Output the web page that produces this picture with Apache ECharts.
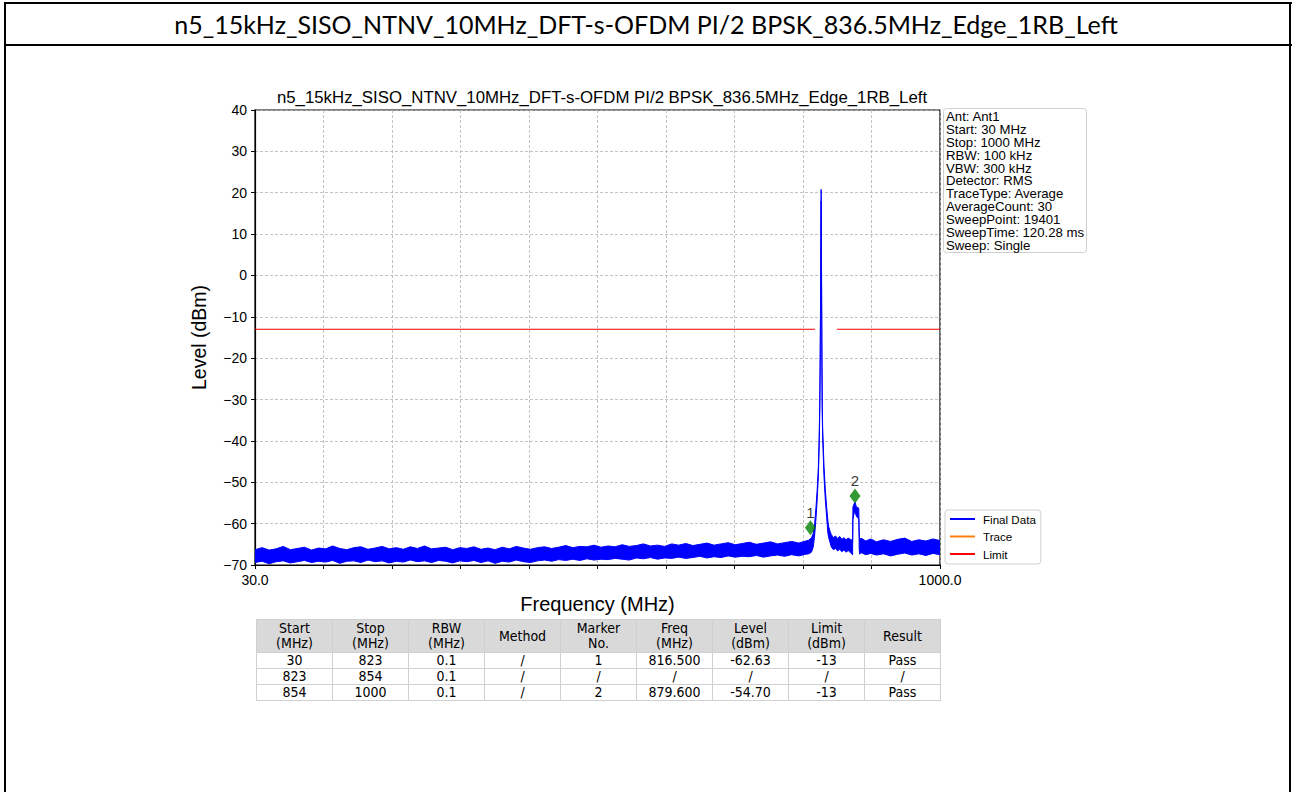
<!DOCTYPE html>
<html>
<head>
<meta charset="utf-8">
<script src="https://cdn.jsdelivr.net/npm/echarts@6/dist/echarts.min.js"></script>
<style>
html,body{margin:0;padding:0;background:#fff;width:1292px;height:792px;overflow:hidden;}
#chart{position:absolute;left:0;top:0;width:1292px;height:792px;}
.fr{position:absolute;background:#000;}
#doctitle{position:absolute;left:0;width:1292px;top:9px;text-align:center;font-family:Lato,"Open Sans","Liberation Sans",sans-serif;font-size:25px;color:#000;line-height:30px;white-space:nowrap;}
#tbl{position:absolute;left:256px;top:619px;border-collapse:collapse;table-layout:fixed;width:684px;font-family:"Liberation Sans Narrow","DejaVu Sans Condensed","Liberation Sans",sans-serif;font-size:14px;color:#000;}
#tbl td{border:1px solid #d0d0d0;text-align:center;padding:0;line-height:15px;height:15px;overflow:hidden;white-space:nowrap;}
#tbl tr.hd td{background:#d9d9d9;height:32px;line-height:15px;}
</style>
</head>
<body>
<div id="chart"></div>
<div class="fr" style="left:4px;top:2px;width:1288px;height:2px;"></div>
<div class="fr" style="left:4px;top:44px;width:1288px;height:2px;"></div>
<div class="fr" style="left:4px;top:2px;width:2px;height:790px;"></div>
<div class="fr" style="left:1289px;top:2px;width:2px;height:790px;"></div>
<div id="doctitle"></div>
<table id="tbl"></table>
<script>
// ---------- data ----------
const docTitle = "n5_15kHz_SISO_NTNV_10MHz_DFT-s-OFDM PI/2 BPSK_836.5MHz_Edge_1RB_Left";
const chartTitle = "n5_15kHz_SISO_NTNV_10MHz_DFT-s-OFDM PI/2 BPSK_836.5MHz_Edge_1RB_Left";

// trace sample frequencies (MHz)
const freqMHz = [
  30,40,50,60,70,80,90,100,110,120,
  130,140,150,160,170,180,190,200,210,220,
  230,240,250,260,270,280,290,300,310,320,
  330,340,350,360,370,380,390,400,410,420,
  430,440,450,460,470,480,490,500,510,520,
  530,540,550,560,570,580,590,600,610,620,
  630,640,650,660,670,680,690,700,710,720,
  730,740,750,760,770,780,790,800,810,
  814,818,820.6,822.5,824.4,826,827.7,828.6,829.1,829.8,830.4,830.9,831.3,831.7,832.1,832.5,832.9,833.3,833.8,834.8,835.7,837.5,839.5,841.4,842.5,844.2,
  846,849,852,855,858,861,864,867,870,873,875.6,
  876.2,876.7,878.2,879.6,881.0,882.2,883.5,885.0,885.6,886.3,
  888,895,902,910,920,930,940,950,960,970,980,990,1000
];
// upper edge of the Final Data trace (dBm)
const upperDbm = [
  -66.3,-65.8,-66.4,-66.1,-65.5,-66.3,-66.0,-65.7,-66.4,-65.9,
  -66.1,-65.4,-66.0,-66.3,-65.8,-65.6,-66.2,-65.9,-65.5,-66.1,
  -65.8,-66.2,-65.6,-66.0,-65.4,-66.1,-65.9,-65.7,-66.3,-65.8,
  -66.0,-65.6,-66.2,-65.9,-66.3,-65.7,-66.1,-65.5,-65.9,-66.2,
  -65.8,-65.6,-66.0,-65.7,-65.3,-65.8,-65.5,-65.6,-65.2,-65.7,
  -65.4,-65.6,-65.1,-65.5,-65.3,-64.9,-65.4,-65.2,-65.5,-64.9,
  -65.2,-64.8,-65.3,-65.0,-64.7,-65.2,-64.9,-64.6,-65.1,-64.8,
  -64.5,-65.0,-64.7,-64.4,-64.9,-64.6,-64.3,-64.7,-64.2,
  -64.0,-63.4,-62.3,-60.0,-56.0,-52.0,-46.5,-41.0,-37.0,-30.0,-18.0,-4.0,10.0,20.8,8.0,-8.0,-22.0,-31.0,-36.5,-41.5,-46.0,-51.5,-56.0,-59.5,-60.8,-61.8,
  -62.6,-63.4,-63.0,-63.6,-63.1,-63.8,-63.4,-63.9,-63.5,-63.8,-64.0,
  -64.5,-56.0,-55.3,-54.8,-55.6,-56.3,-56.0,-56.4,-62.0,-64.2,
  -63.5,-64.2,-63.7,-64.4,-63.9,-64.3,-63.8,-63.5,-64.3,-63.9,-64.2,-63.7,-64.1
];
// lower edge of the Final Data trace (dBm)
const lowerDbm = [
  -69.4,-69.1,-69.7,-69.2,-69.0,-69.5,-69.2,-68.9,-69.4,-69.1,
  -69.3,-68.9,-69.6,-69.1,-69.0,-69.4,-68.8,-69.2,-69.0,-69.5,
  -69.1,-69.3,-68.8,-69.2,-69.0,-69.4,-68.9,-69.1,-69.5,-69.0,
  -69.2,-68.9,-69.4,-69.0,-69.6,-69.1,-69.3,-68.8,-69.2,-69.4,
  -69.0,-68.8,-69.1,-68.7,-68.9,-68.6,-68.9,-68.5,-68.8,-68.6,
  -68.7,-68.4,-68.6,-68.8,-68.3,-68.5,-68.2,-68.6,-68.3,-68.4,
  -68.1,-68.4,-68.2,-67.9,-68.3,-68.0,-68.2,-67.8,-68.1,-67.9,
  -68.0,-67.7,-68.1,-67.8,-67.6,-67.9,-67.5,-67.8,-67.4,
  -67.3,-66.9,-65.6,-62.8,-58.8,-54.5,-48.8,-43.5,-39.5,-33.0,-21.0,-7.0,6.0,18.0,4.0,-11.0,-25.0,-34.0,-39.0,-44.0,-48.5,-54.0,-58.5,-62.5,-63.5,-64.5,
  -65.6,-66.3,-66.0,-66.6,-66.2,-66.8,-66.4,-66.9,-66.5,-67.0,-67.3,
  -67.6,-59.0,-57.6,-57.2,-57.9,-58.4,-58.6,-58.9,-66.2,-67.4,
  -67.0,-67.5,-67.2,-67.6,-67.3,-67.8,-67.4,-67.1,-67.6,-67.3,-67.7,-67.2,-67.5
];

// limit line: segments (start, stop, level)
const limitStart = [30, 854];
const limitStop = [823, 1000];
const limitLevel = [-13, -13];

// markers
const markerNo = ["1", "2"];
const markerFreq = [816.5, 879.6];
const markerPlotLevel = [-61.0, -53.3];

// axis ranges and tick labels
const xMin = 30, xMax = 1000, xStep = 97;
const yMin = -70, yMax = 40, yStep = 10;
const xTickLabels = {30: "30.0", 1000: "1000.0"};

const infoLines = ["Ant: Ant1","Start: 30 MHz","Stop: 1000 MHz","RBW: 100 kHz","VBW: 300 kHz","Detector: RMS","TraceType: Average","AverageCount: 30","SweepPoint: 19401","SweepTime: 120.28 ms","Sweep: Single"];

const legendNames = ["Final Data", "Trace", "Limit"];

// result table
const tableHeader = ["Start<br>(MHz)","Stop<br>(MHz)","RBW<br>(MHz)","Method","Marker<br>No.","Freq<br>(MHz)","Level<br>(dBm)","Limit<br>(dBm)","Result"];
const tableRow1 = ["30","823","0.1","/","1","816.500","-62.63","-13","Pass"];
const tableRow2 = ["823","854","0.1","/","/","/","/","/","/"];
const tableRow3 = ["854","1000","0.1","/","2","879.600","-54.70","-13","Pass"];

// ---------- page text ----------
document.getElementById('doctitle').textContent = docTitle;
(function(){
  const t = document.getElementById('tbl');
  let html = '<colgroup>' + tableHeader.map(()=>'<col style="width:76px">').join('') + '</colgroup>';
  html += '<tr class="hd">' + tableHeader.map(h=>'<td>'+h+'</td>').join('') + '</tr>';
  [tableRow1, tableRow2, tableRow3].forEach(r=>{
    html += '<tr>' + r.map(c=>'<td>'+c+'</td>').join('') + '</tr>';
  });
  t.innerHTML = html;
})();

// ---------- chart ----------
const FONT = '"Liberation Sans", Arial, sans-serif';
const limitData = [];
limitStart.forEach((s,i)=>{
  if (i > 0) limitData.push([(limitStop[i-1]+s)/2, '-']);
  limitData.push([s, limitLevel[i]]);
  limitData.push([limitStop[i], limitLevel[i]]);
});
const markerData = markerFreq.map((f,i)=>({value:[f, markerPlotLevel[i]], name: markerNo[i]}));

// Final Data trace drawn as a filled band between its upper and lower edges
function renderBand(params, api) {
  const pts = [];
  for (let i = 0; i < freqMHz.length; i++) pts.push(api.coord([freqMHz[i], upperDbm[i]]));
  for (let i = freqMHz.length - 1; i >= 0; i--) pts.push(api.coord([freqMHz[i], lowerDbm[i]]));
  return {
    type: 'polygon',
    shape: {points: pts},
    style: {fill: '#0000ff', stroke: '#0000ff', lineWidth: 1}
  };
}

const chart = echarts.init(document.getElementById('chart'), null, {renderer:'svg'});
chart.setOption({
  animation: false,
  backgroundColor: '#fff',
  title: [
    {text: chartTitle, left: 597, top: 84, textAlign: 'center',
     textStyle:{fontFamily: FONT, fontSize: 16.8, fontWeight:'normal', color:'#000'}},
    {text: infoLines.join('\n'), left: 943, top: 108, padding:[2,3,1,3],
     borderColor:'#cfcfcf', borderWidth:1, borderRadius:3,
     textStyle:{fontFamily: FONT, fontSize: 13.2, lineHeight: 12.9, fontWeight:'normal', color:'#000'}}
  ],
  legend: {
    data: legendNames,
    orient: 'vertical',
    left: 945, top: 510,
    padding: [2, 5, 3, 5],
    itemGap: 3.5,
    itemWidth: 25, itemHeight: 2,
    icon: 'rect',
    borderColor: '#cfcfcf', borderWidth: 1, borderRadius: 3,
    textStyle: {fontFamily: FONT, fontSize: 11.6, color:'#000', lineHeight: 14, padding:[0,0,0,3]}
  },
  grid: {left: 255, top: 110, width: 685, height: 455, show: true, borderColor:'#000', borderWidth: 1.2, containLabel:false},
  xAxis: {
    type: 'value', min: xMin, max: xMax, interval: xStep,
    name: 'Frequency (MHz)', nameLocation: 'middle', nameGap: 29,
    nameTextStyle: {fontFamily: FONT, fontSize: 20, color:'#000'},
    axisLine: {show: true, onZero: false, lineStyle:{color:'#000', width:1.2}},
    axisTick: {show: true, inside:false, length: 4, lineStyle:{color:'#000'}},
    axisLabel: {fontFamily: FONT, fontSize: 14, color:'#000', margin: 8,
      showMinLabel: true, showMaxLabel: true, hideOverlap: false,
      formatter: v => xTickLabels[v] || ''},
    splitLine: {show: true, lineStyle:{color:'#b4b4b4', type:[3,2], width:0.8}}
  },
  yAxis: {
    type: 'value', min: yMin, max: yMax, interval: yStep,
    name: 'Level (dBm)', nameLocation: 'middle', nameGap: 46, nameRotate: 90,
    nameTextStyle: {fontFamily: FONT, fontSize: 19.5, color:'#000'},
    axisLine: {show: true, onZero: false, lineStyle:{color:'#000', width:1.2}},
    axisTick: {show: true, inside:false, length: 4, lineStyle:{color:'#000'}},
    axisLabel: {fontFamily: FONT, fontSize: 14, color:'#000', margin: 8,
      formatter: v => String(v).replace('-', '\u2212')},
    splitLine: {show: true, lineStyle:{color:'#b4b4b4', type:[3,2], width:0.8}}
  },
  series: [
    {name: 'Final Data', type: 'custom', renderItem: renderBand, clip: true,
     data: [[freqMHz[0], upperDbm[0]]], itemStyle:{color:'#0000ff'}, z: 3, silent: true},
    {name: 'Trace', type: 'line', data: [], symbol:'none',
     lineStyle:{color:'#ff7f0e', width:1.5}, itemStyle:{color:'#ff7f0e'}},
    {name: 'Limit', type: 'line', data: limitData, symbol:'none', connectNulls:false,
     lineStyle:{color:'#ff0000', width:1.2}, itemStyle:{color:'#ff0000'}, z: 4},
    {name: 'Markers', type: 'scatter', data: markerData, symbol:'diamond', symbolSize:[11,15],
     itemStyle:{color:'#008000'}, z: 5,
     label:{show:true, position:'top', distance:0, formatter: p => p.name,
       fontFamily: FONT, fontSize: 15, color:'#000'}}
  ]
});
</script>
</body>
</html>
